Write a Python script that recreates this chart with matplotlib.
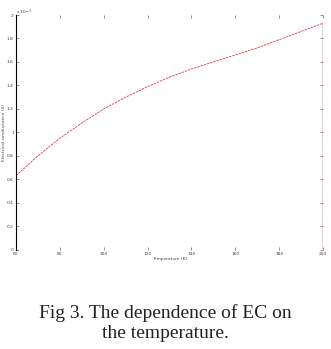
import numpy as np
import matplotlib.pyplot as plt

# temperature (K) vs EC (x 1e-3)
temp = [60, 70, 80, 90, 100, 110, 120, 130, 140, 150, 160, 170, 180, 190, 200, 200]
ec = [0.63, 0.80, 0.95, 1.08, 1.20, 1.30, 1.39, 1.47, 1.54, 1.60, 1.66, 1.72, 1.79, 1.86, 1.93, 0.0]
xticks = [60, 80, 100, 120, 140, 160, 180, 200]
yticks = [0, 0.2, 0.4, 0.6, 0.8, 1, 1.2, 1.4, 1.6, 1.8, 2]

fig = plt.figure(figsize=(3.31, 3.49), dpi=100)
ax = fig.add_axes([0.048, 0.284, 0.928, 0.673])
ax.plot(temp, ec, '--', color='#e8384f', lw=0.6, dashes=(3, 1))
ax.set_xlim(60, 200)
ax.set_ylim(0, 2)
ax.set_xticks(xticks)
ax.set_yticks(yticks)
ax.set_xticklabels([str(t) for t in xticks])
ax.set_yticklabels(['0', '0.2', '0.4', '0.6', '0.8', '1', '1.2', '1.4', '1.6', '1.8', '2'])
ax.tick_params(direction='in', length=2, width=0.4, labelsize=3.2, colors='#444444',
               top=True, right=True, pad=1.5)
for s in ['top', 'right', 'bottom']:
    ax.spines[s].set_visible(False)
ax.spines['left'].set_linewidth(0.8)
ax.set_xlabel('Temperature (K)', fontsize=3.2, labelpad=1, color='#444444')
ax.set_ylabel('Electrical conductance (S)', fontsize=3.2, labelpad=1, color='#444444')
ax.text(0.0, 1.005, r'x 10$^{-3}$', transform=ax.transAxes, fontsize=3.2, color='#444444')

fig.text(0.5, 0.074, 'Fig 3. The dependence of EC on\nthe temperature.', ha='center', va='center',
         fontsize=14, family='Liberation Serif', linespacing=1.2, color='#222222')
fig.savefig('out.png', dpi=100)
